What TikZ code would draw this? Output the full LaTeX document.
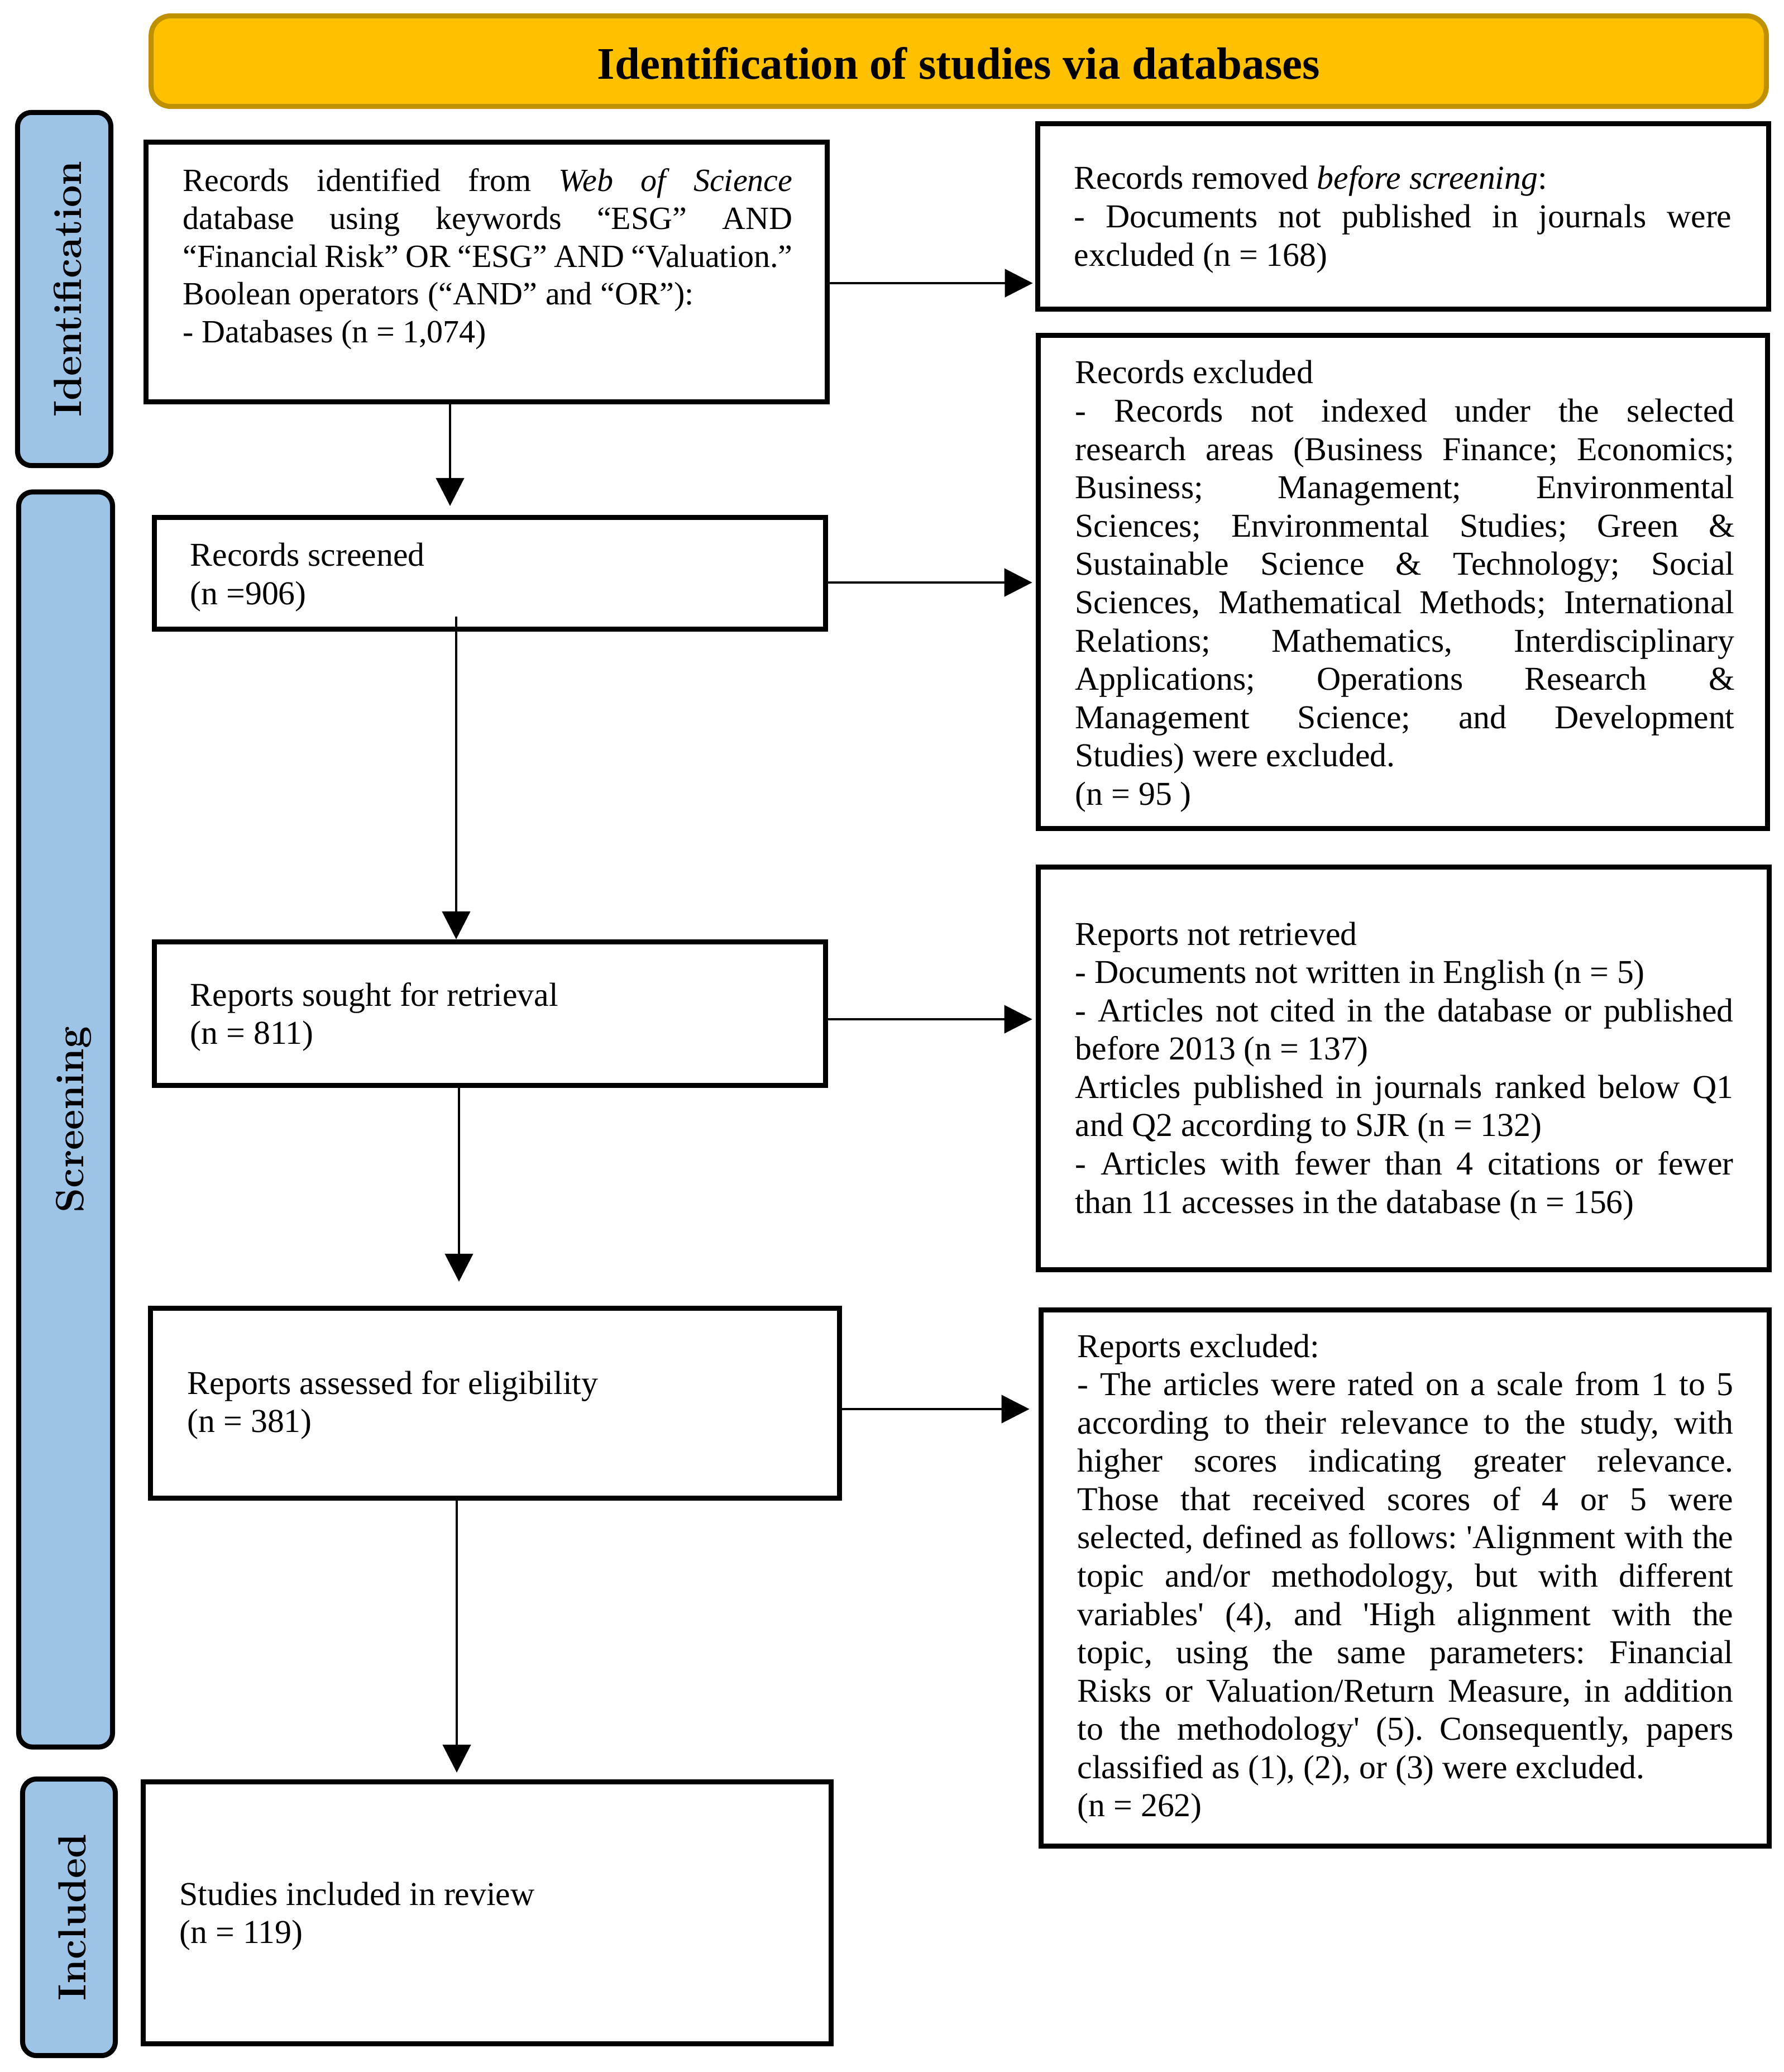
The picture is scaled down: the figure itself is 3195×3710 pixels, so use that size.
\documentclass[tikz,border=0pt]{standalone}
\usepackage{fontspec}
\newfontfamily\mainf{Liberation Serif}
\usetikzlibrary{arrows.meta}
\definecolor{hdrfill}{HTML}{FFC000}
\definecolor{hdrdraw}{HTML}{BF9000}
\definecolor{barfill}{HTML}{9DC3E6}
\newcommand{\R}{\spaceskip=0pt\xspaceskip=0pt\frenchspacing\relax}
\newcommand{\J}[1]{\leavevmode\hbox to \hsize{\R #1}}
\begin{document}
\begin{tikzpicture}[x=0.01cm, y=-0.01cm,
  flowbox/.style={draw=black, line width=0.09cm, fill=white, inner sep=0pt},
  sidebar/.style={draw=black, line width=0.09cm, fill=barfill, rounded corners=0.25cm, inner sep=0pt},
  header/.style={draw=hdrdraw, line width=0.09cm, fill=hdrfill, rounded corners=0.35cm, inner sep=0pt},
  txt/.style={anchor=base west, inner sep=0pt, align=left, font=\mainf\fontsize{17}{19.5}\selectfont},
  txtsmall/.style={txt, font=\mainf\fontsize{16.5}{19.2}\selectfont},
  arr/.style={line width=0.045cm, -{Triangle[length=0.5cm, width=0.5cm]}},
  sidelabel/.style={rotate=90, anchor=base, inner sep=0pt, font=\bfseries\fontsize{20}{24}\selectfont},
  titletxt/.style={anchor=base, inner sep=0pt, font=\mainf\bfseries\fontsize{23}{28}\selectfont}]
\useasboundingbox (0,0) rectangle (3195,3710);

% header and side bars
\node[header, minimum width=28.91cm, minimum height=1.62cm] (hdr) at (1717,109.5) {};
\node[titletxt] (title) at (1717,142) {Identification of studies via databases};
\node[sidebar, minimum width=1.67cm, minimum height=6.32cm] (sI) at (115,517.5) {};
\node[sidebar, minimum width=1.68cm, minimum height=22.46cm] (sS) at (117.5,2004.5) {};
\node[sidebar, minimum width=1.66cm, minimum height=4.95cm] (sN) at (123.5,3433) {};
\node[sidelabel] (lI) at (145,517.5) {Identification};
\node[sidelabel] (lS) at (149,2004.5) {Screening};
\node[sidelabel] (lN) at (153,3433) {Included};

% boxes
\node[flowbox, minimum width=12.20cm, minimum height=4.65cm] (b1) at (871.5,487) {};
\node[flowbox, minimum width=13.09cm, minimum height=3.32cm] (r1) at (2513,387.5) {};
\node[flowbox, minimum width=12.02cm, minimum height=2.00cm] (b2) at (877.5,1026.5) {};
\node[flowbox, minimum width=13.06cm, minimum height=8.83cm] (r2) at (2512.5,1042) {};
\node[flowbox, minimum width=12.02cm, minimum height=2.57cm] (b3) at (877.5,1815) {};
\node[flowbox, minimum width=13.09cm, minimum height=7.21cm] (r3) at (2514,1913) {};
\node[flowbox, minimum width=12.34cm, minimum height=3.40cm] (b4) at (886.5,2512.5) {};
\node[flowbox, minimum width=13.04cm, minimum height=9.60cm] (r4) at (2516.5,2825.5) {};
\node[flowbox, minimum width=12.32cm, minimum height=4.69cm] (b5) at (872.5,3425) {};

% texts
\node[txtsmall, text width=10.91cm] (t1) at (327,343) {\R
\J{Records identified from \textit{Web of Science}}\\
\J{database using keywords “ESG” AND}\\
\J{“Financial Risk” OR “ESG” AND “Valuation.”}\\
Boolean operators (“AND” and “OR”):\\
- Databases (n = 1,074)};
\node[txt, text width=11.77cm] (rt1) at (1923,339) {\R
Records removed \textit{before screening}:\\
\J{- Documents not published in journals were}\\
excluded (n = 168)};
\node[txt, text width=10cm] (t2) at (340,1014) {\R Records screened\\(n =906)};
\node[txt, text width=11.80cm] (rt2) at (1925,687) {\R
Records excluded\\
\J{- Records not indexed under the selected}\\
\J{research areas (Business Finance; Economics;}\\
\J{Business; Management; Environmental}\\
\J{Sciences; Environmental Studies; Green \&}\\
\J{Sustainable Science \& Technology; Social}\\
\J{Sciences, Mathematical Methods; International}\\
\J{Relations; Mathematics, Interdisciplinary}\\
\J{Applications; Operations Research \&}\\
\J{Management Science; and Development}\\
Studies) were excluded.\\
(n = 95 )};
\node[txt, text width=10cm] (t3) at (340,1801) {\R Reports sought for retrieval\\(n = 811)};
\node[txt, text width=11.78cm] (rt3) at (1925,1692) {\R
Reports not retrieved\\
- Documents not written in English (n = 5)\\
\J{- Articles not cited in the database or published}\\
before 2013 (n = 137)\\
\J{Articles published in journals ranked below Q1}\\
and Q2 according to SJR (n = 132)\\
\J{- Articles with fewer than 4 citations or fewer}\\
than 11 accesses in the database (n = 156)};
\node[txt, text width=10cm] (t4) at (335,2496) {\R Reports assessed for eligibility\\(n = 381)};
\node[txt, text width=11.74cm] (rt4) at (1929,2430) {\R
Reports excluded:\\
\J{- The articles were rated on a scale from 1 to 5}\\
\J{according to their relevance to the study, with}\\
\J{higher scores indicating greater relevance.}\\
\J{Those that received scores of 4 or 5 were}\\
\J{selected, defined as follows: 'Alignment with the}\\
\J{topic and/or methodology, but with different}\\
\J{variables' (4), and 'High alignment with the}\\
\J{topic, using the same parameters: Financial}\\
\J{Risks or Valuation/Return Measure, in addition}\\
\J{to the methodology' (5). Consequently, papers}\\
classified as (1), (2), or (3) were excluded.\\
(n = 262)};
\node[txt, text width=10cm] (t5) at (321,3411) {\R Studies included in review\\(n = 119)};

% connectors
\coordinate (x1) at (806,0);
\coordinate (a2s) at (817,1104);
\coordinate (x3) at (822,0);
\coordinate (x4) at (818,0);
\coordinate (h1) at (0,507);
\coordinate (h2) at (0,1043);
\coordinate (h3) at (0,1825);
\coordinate (h4) at (0,2523);
\draw[arr, shorten >=0.16cm] (b1.south -| x1) -- (b2.north -| x1);
\draw[arr] (a2s) -- (b3.north -| a2s);
\draw[arr, shorten >=0.43cm] (b3.south -| x3) -- (b4.north -| x3);
\draw[arr, shorten >=0.12cm] (b4.south -| x4) -- (b5.north -| x4);
\draw[arr, shorten >=0.04cm] (b1.east |- h1) -- (r1.west |- h1);
\draw[arr, shorten >=0.06cm] (b2.east |- h2) -- (r2.west |- h2);
\draw[arr, shorten >=0.06cm] (b3.east |- h3) -- (r3.west |- h3);
\draw[arr, shorten >=0.16cm] (b4.east |- h4) -- (r4.west |- h4);
\end{tikzpicture}
\end{document}
